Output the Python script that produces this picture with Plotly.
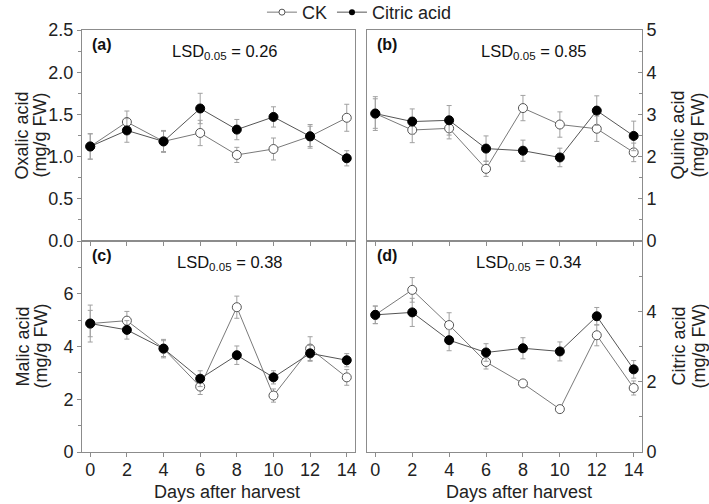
import plotly.graph_objects as go

days = [0, 2, 4, 6, 8, 10, 12, 14]

oxalic_ck = [1.12, 1.41, 1.18, 1.28, 1.02, 1.09, 1.24, 1.46]
oxalic_ck_err = [0.15, 0.13, 0.13, 0.15, 0.09, 0.13, 0.14, 0.16]
oxalic_ca = [1.12, 1.31, 1.18, 1.57, 1.32, 1.47, 1.24, 0.98]
oxalic_ca_err = [0.15, 0.14, 0.12, 0.18, 0.12, 0.12, 0.12, 0.09]

quinic_ck = [3.02, 2.63, 2.67, 1.71, 3.15, 2.76, 2.66, 2.10]
quinic_ck_err = [0.40, 0.30, 0.25, 0.18, 0.30, 0.30, 0.30, 0.22]
quinic_ca = [3.02, 2.83, 2.86, 2.19, 2.14, 1.98, 3.09, 2.49]
quinic_ca_err = [0.35, 0.30, 0.35, 0.30, 0.25, 0.22, 0.35, 0.35]

malic_ck = [4.87, 4.98, 3.92, 2.48, 5.49, 2.14, 3.92, 2.83]
malic_ck_err = [0.70, 0.35, 0.30, 0.30, 0.42, 0.25, 0.45, 0.30]
malic_ca = [4.87, 4.63, 3.92, 2.78, 3.67, 2.83, 3.74, 3.48]
malic_ca_err = [0.50, 0.35, 0.35, 0.30, 0.35, 0.25, 0.30, 0.25]

citric_ck = [3.90, 4.61, 3.61, 2.56, 1.95, 1.22, 3.32, 1.82]
citric_ck_err = [0.25, 0.35, 0.35, 0.20, 0.05, 0.05, 0.30, 0.20]
citric_ca = [3.90, 3.97, 3.18, 2.83, 2.95, 2.86, 3.86, 2.35]
citric_ca_err = [0.25, 0.40, 0.30, 0.25, 0.30, 0.27, 0.25, 0.25]

series_names = ["CK", "Citric acid"]
panel_labels = ["(a)", "(b)", "(c)", "(d)"]
lsd_values = ["0.26", "0.85", "0.38", "0.34"]
y_title_lines = [("Oxalic acid", "(mg/g FW)"), ("Quinic acid", "(mg/g FW)"),
                 ("Malic acid", "(mg/g FW)"), ("Citric acid", "(mg/g FW)")]
x_title = "Days after harvest"

FONT = "Liberation Sans, Arial, sans-serif"
W, H = 709, 504
AX = "#8c8c8c"

fig = go.Figure()

panels = [
    (oxalic_ck, oxalic_ck_err, oxalic_ca, oxalic_ca_err, "x", "y"),
    (quinic_ck, quinic_ck_err, quinic_ca, quinic_ca_err, "x2", "y2"),
    (malic_ck, malic_ck_err, malic_ca, malic_ca_err, "x3", "y3"),
    (citric_ck, citric_ck_err, citric_ca, citric_ca_err, "x4", "y4"),
]

for ck, ckerr, ca, caerr, xa, ya in panels:
    fig.add_trace(go.Scatter(
        x=days, y=ck, xaxis=xa, yaxis=ya, mode="lines+markers", showlegend=False,
        line=dict(color="#7a7a7a", width=1),
        marker=dict(symbol="circle", size=9, color="white", line=dict(color="#555", width=1)),
        error_y=dict(type="data", array=ckerr, color="#a0a0a0", thickness=1, width=2.5),
    ))
    fig.add_trace(go.Scatter(
        x=days, y=ca, xaxis=xa, yaxis=ya, mode="lines+markers", showlegend=False,
        line=dict(color="#555555", width=1),
        marker=dict(symbol="circle", size=9, color="black", line=dict(color="black", width=1)),
        error_y=dict(type="data", array=caerr, color="#a0a0a0", thickness=1, width=2.5),
    ))

# legend entries
fig.add_trace(go.Scatter(x=[None], y=[None], mode="lines+markers", name=series_names[0],
                         line=dict(color="#7a7a7a", width=1),
                         marker=dict(size=6, color="white", line=dict(color="#555", width=1))))
fig.add_trace(go.Scatter(x=[None], y=[None], mode="lines+markers", name=series_names[1],
                         line=dict(color="#555555", width=1),
                         marker=dict(size=6, color="black")))

xl = [82 / W, 355 / W]
xr = [367 / W, 642 / W]
yt = [(H - 241) / H, (H - 30) / H]
yb = [(H - 452) / H, (H - 241) / H]

tickfont = dict(family=FONT, size=18, color="#222")
titlefont = dict(family=FONT, size=18, color="#222")

def xaxis(domain, anchor, labels):
    return dict(domain=domain, anchor=anchor, range=[-0.45, 14.45],
                tickvals=days, ticks="outside", ticklen=4, tickcolor=AX,
                showline=True, linecolor=AX, linewidth=1, mirror=True,
                showgrid=False, zeroline=False, showticklabels=labels,
                tickfont=tickfont, ticklabelstandoff=-3)

def yaxis(domain, anchor, side, rng, tickvals, minorvals, ticktext):
    tk = "outside" if side == "left" else "inside"
    return dict(domain=domain, anchor=anchor, side=side, range=rng,
                tickvals=tickvals, ticktext=ticktext, ticks=tk, ticklen=4, tickcolor=AX,
                minor=dict(tickvals=minorvals, ticks=tk, ticklen=3, tickcolor=AX),
                showline=True, linecolor=AX, linewidth=1, mirror=True,
                showgrid=False, zeroline=False, tickfont=tickfont)

fig.update_layout(
    width=W, height=H, margin=dict(l=0, r=0, t=0, b=0, autoexpand=False),
    paper_bgcolor="white", plot_bgcolor="white",
    font=dict(family=FONT, size=18, color="#222"),
    xaxis=xaxis(xl, "y", False),
    xaxis2=xaxis(xr, "y2", False),
    xaxis3=xaxis(xl, "y3", True),
    xaxis4=xaxis(xr, "y4", True),
    yaxis=yaxis(yt, "x", "left", [0, 2.5], [0, 0.5, 1.0, 1.5, 2.0, 2.5],
                [0.25, 0.75, 1.25, 1.75, 2.25], ["0.0", "0.5", "1.0", "1.5", "2.0", "2.5"]),
    yaxis2=yaxis(yt, "x2", "right", [0, 5], [0, 1, 2, 3, 4, 5],
                 [0.5, 1.5, 2.5, 3.5, 4.5], ["0", "1", "2", "3", "4", "5"]),
    yaxis3=yaxis(yb, "x3", "left", [0, 8], [0, 2, 4, 6],
                 [1, 3, 5, 7], ["0", "2", "4", "6"]),
    yaxis4=yaxis(yb, "x4", "right", [0, 6], [0, 2, 4],
                 [1, 3, 5], ["0", "2", "4"]),
    legend=dict(orientation="h", x=0.507, xanchor="center", y=1.012, yanchor="top",
                font=dict(family=FONT, size=18, color="#222"),
                bgcolor="rgba(0,0,0,0)", itemwidth=30),
)

axes_ref = [("x", "y"), ("x2", "y2"), ("x3", "y3"), ("x4", "y4")]
lsd_x = [0.524, 0.607, 0.542, 0.589]
for i, (xa, ya) in enumerate(axes_ref):
    fig.add_annotation(xref=f"{xa} domain", yref=f"{ya} domain", x=0.03, y=0.929,
                       xanchor="left", yanchor="middle", showarrow=False,
                       text=f"<b>{panel_labels[i]}</b>",
                       font=dict(family=FONT, size=16, color="#111"))
    fig.add_annotation(xref=f"{xa} domain", yref=f"{ya} domain", x=lsd_x[i], y=0.896,
                       xanchor="center", yanchor="middle", showarrow=False,
                       text=f"LSD<sub>0.05</sub> = {lsd_values[i]}",
                       font=dict(family=FONT, size=16.5, color="#111"))

# x-axis titles
for px in (227, 519):
    fig.add_annotation(xref="paper", yref="paper", x=px / W, y=(H - 492) / H,
                       xanchor="center", yanchor="middle", showarrow=False,
                       text=x_title, font=titlefont)

# y-axis titles (two lines each)
title_x = [(22, 40), (678, 698), (22, 40), (678, 698)]
title_y = [(yt[0] + yt[1]) / 2, (yt[0] + yt[1]) / 2, (yb[0] + yb[1]) / 2, (yb[0] + yb[1]) / 2]
for i, (l1, l2) in enumerate(y_title_lines):
    for txt, px in zip((l1, l2), title_x[i]):
        fig.add_annotation(xref="paper", yref="paper", x=px / W, y=title_y[i],
                           xanchor="center", yanchor="middle", showarrow=False,
                           textangle=-90, text=txt, font=titlefont)

fig.write_html("out.html", config={"displayModeBar": False},
               post_script="document.body.style.margin='0';document.body.style.overflow='hidden';")
